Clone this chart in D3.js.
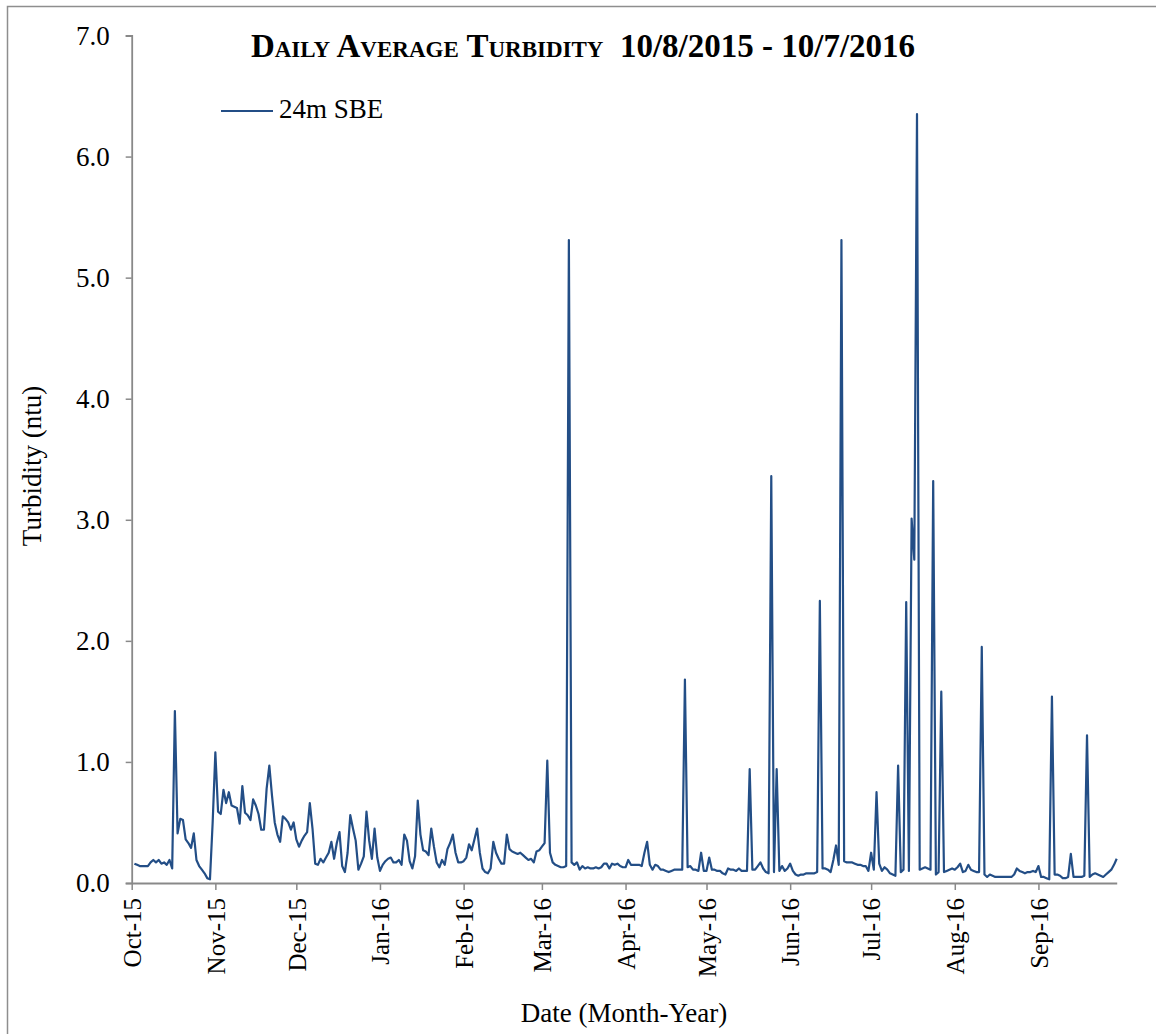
<!DOCTYPE html>
<html>
<head>
<meta charset="utf-8">
<script src="https://cdn.jsdelivr.net/npm/d3@7"></script>
<style>
  html, body { margin: 0; padding: 0; background: #fff; }
  svg { display: block; }
  text { font-family: "Liberation Serif", "Times New Roman", serif; fill: #000; }
</style>
</head>
<body>
<svg id="chart" width="1156" height="1034"></svg>
<script>
// ---- data (daily average turbidity, ntu) ----
const seriesName = "24m SBE";
const firstDay = "2015-10-02";
const oct15 = [0.16,0.15,0.14,0.14,0.14,0.14,0.17,0.19,0.17,0.19,0.16,0.17,0.15,0.19,0.12,1.42,0.41,0.53,0.52,0.36,0.33,0.29,0.41,0.19,0.14,0.11,0.08,0.04,0.03,0.50];
const nov15 = [1.08,0.59,0.57,0.77,0.66,0.75,0.64,0.63,0.62,0.49,0.80,0.58,0.56,0.52,0.69,0.64,0.57,0.44,0.44,0.78,0.97,0.72,0.50,0.40,0.34,0.55,0.53,0.50,0.44,0.50];
const dec15 = [0.36,0.30,0.35,0.39,0.42,0.66,0.45,0.16,0.15,0.20,0.17,0.21,0.25,0.34,0.20,0.33,0.42,0.14,0.09,0.25,0.56,0.45,0.35,0.11,0.16,0.22,0.59,0.35,0.20,0.45,0.21];
const jan16 = [0.10,0.15,0.18,0.20,0.21,0.17,0.17,0.19,0.15,0.40,0.35,0.18,0.12,0.22,0.68,0.40,0.27,0.26,0.23,0.45,0.30,0.17,0.13,0.19,0.15,0.28,0.33,0.40,0.25,0.17,0.17];
const feb16 = [0.18,0.21,0.32,0.27,0.36,0.45,0.25,0.12,0.09,0.08,0.12,0.34,0.25,0.20,0.16,0.16,0.40,0.28,0.26,0.25,0.24,0.25,0.23,0.21,0.19,0.20,0.17,0.26,0.27];
const mar16 = [0.30,0.33,1.01,0.25,0.17,0.15,0.14,0.13,0.13,0.14,5.31,0.17,0.15,0.17,0.11,0.14,0.12,0.13,0.12,0.12,0.13,0.12,0.13,0.16,0.16,0.12,0.16,0.15,0.16,0.14,0.13];
const apr16 = [0.13,0.19,0.15,0.15,0.15,0.15,0.14,0.25,0.34,0.15,0.11,0.15,0.14,0.11,0.11,0.10,0.09,0.10,0.11,0.11,0.11,0.11,1.68,0.13,0.14,0.11,0.11,0.10,0.25,0.10];
const may16 = [0.10,0.21,0.11,0.11,0.10,0.10,0.08,0.07,0.12,0.11,0.11,0.10,0.12,0.10,0.10,0.10,0.94,0.11,0.11,0.14,0.17,0.12,0.09,0.08,3.36,0.09,0.94,0.10,0.14,0.10,0.12];
const jun16 = [0.16,0.10,0.07,0.06,0.07,0.07,0.08,0.08,0.08,0.08,0.09,2.33,0.12,0.12,0.11,0.09,0.19,0.31,0.15,5.31,0.18,0.17,0.17,0.17,0.16,0.15,0.15,0.14,0.14,0.10];
const jul16 = [0.25,0.11,0.75,0.16,0.10,0.13,0.11,0.08,0.07,0.06,0.97,0.09,0.11,2.32,0.10,3.01,2.67,6.35,0.11,0.12,0.13,0.12,0.11,3.32,0.07,0.09,1.58,0.09,0.10,0.11,0.12];
const aug16 = [0.11,0.13,0.16,0.09,0.10,0.15,0.11,0.10,0.09,0.09,1.95,0.07,0.05,0.07,0.06,0.05,0.05,0.05,0.05,0.05,0.05,0.05,0.07,0.12,0.10,0.09,0.08,0.09,0.09,0.10,0.09];
const sep16 = [0.14,0.05,0.05,0.04,0.03,1.54,0.07,0.07,0.06,0.04,0.04,0.05,0.24,0.05,0.05,0.05,0.05,0.06,1.22,0.05,0.07,0.08,0.07,0.06,0.05,0.07,0.09,0.11,0.15,0.20];

const yTicks = [0, 1, 2, 3, 4, 5, 6, 7];
const xDomain = ["2015-10-01", "2016-09-30"];
const titleText = "Daily Average Turbidity  10/8/2015 - 10/7/2016";
const xTitle = "Date (Month-Year)";
const yTitle = "Turbidity (ntu)";

// ---- build ----
const values = [].concat(oct15, nov15, dec15, jan16, feb16, mar16, apr16, may16, jun16, jul16, aug16, sep16);
const start = d3.utcParse("%Y-%m-%d")(firstDay);
const data = values.map((v, i) => ({ date: d3.utcDay.offset(start, i), value: v }));

const svg = d3.select("#chart");
const axisColor = "#898989";
const lineColor = "#234e86";

// outer frame
svg.append("rect")
  .attr("x", 7.5).attr("y", 6.5)
  .attr("width", 1170).attr("height", 1050)
  .attr("fill", "none").attr("stroke", "#8e8e8e").attr("stroke-width", 1.5);

const x = d3.scaleUtc()
  .domain(xDomain.map(d3.utcParse("%Y-%m-%d")))
  .range([131.7, 1116.7]);
const y = d3.scaleLinear().domain([0, 7]).range([883, 35.5]);

// y axis
const yAxis = svg.append("g")
  .attr("transform", "translate(131.7,0)")
  .call(d3.axisLeft(y).tickValues(yTicks).tickFormat(d3.format(".1f")).tickSize(6).tickPadding(16));
yAxis.select(".domain").attr("stroke", axisColor).attr("stroke-width", 1.8);
yAxis.selectAll(".tick line").attr("stroke", axisColor).attr("stroke-width", 1.5);
yAxis.selectAll(".tick text")
  .style("font-family", "'Liberation Serif', serif").style("font-size", "27px").attr("fill", "#000");

// x axis
const xAxis = svg.append("g")
  .attr("transform", "translate(0,883)")
  .call(d3.axisBottom(x).ticks(d3.utcMonth.every(1)).tickFormat(d3.utcFormat("%b-%y")).tickSizeInner(7).tickSizeOuter(0));
xAxis.select(".domain").attr("stroke", axisColor).attr("stroke-width", 1.8);
xAxis.selectAll(".tick line").attr("stroke", axisColor).attr("stroke-width", 1.5);
xAxis.selectAll(".tick text")
  .style("font-family", "'Liberation Serif', serif").style("font-size", "25px")
  .attr("fill", "#000")
  .attr("text-anchor", "end")
  .attr("transform", "rotate(-90)")
  .attr("x", -15).attr("y", 0).attr("dy", "0.35em");

// line
const line = d3.line().x(d => x(d.date)).y(d => y(d.value));
svg.append("path")
  .datum(data)
  .attr("d", line)
  .attr("fill", "none")
  .attr("stroke", lineColor)
  .attr("stroke-width", 2.2)
  .attr("stroke-linejoin", "round");

// title
svg.append("text")
  .attr("x", 583).attr("y", 57)
  .attr("text-anchor", "middle")
  .style("font-size", "33px").style("font-weight", "bold")
  .style("font-variant", "small-caps")
  .style("white-space", "pre")
  .text(titleText);

// legend
svg.append("line")
  .attr("x1", 221).attr("x2", 273).attr("y1", 111).attr("y2", 111)
  .attr("stroke", lineColor).attr("stroke-width", 2.2);
svg.append("text")
  .attr("x", 279).attr("y", 118)
  .style("font-size", "27px")
  .text(seriesName);

// axis titles
svg.append("text")
  .attr("x", 624).attr("y", 1022)
  .attr("text-anchor", "middle")
  .style("font-size", "27px")
  .text(xTitle);
svg.append("text")
  .attr("transform", "translate(41,466) rotate(-90)")
  .attr("text-anchor", "middle")
  .style("font-size", "27px")
  .text(yTitle);
</script>
</body>
</html>
